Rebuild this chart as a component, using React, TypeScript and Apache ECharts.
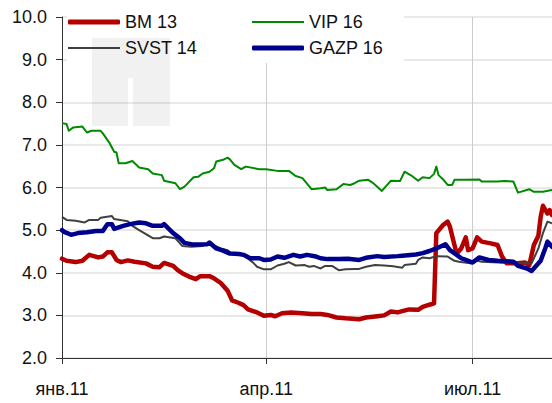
import React, { useEffect, useRef } from 'react';
import * as echarts from 'echarts';

const FIRST_DAY = '2011-01-01';
const DAY_COUNT = 217;
const TICK_DATES = ['2011-01-01', '2011-04-01', '2011-07-01'];
const TICK_LABELS = ['янв.11', 'апр.11', 'июл.11'];
const Y_MIN = 2;
const Y_MAX = 10;
const Y_STEP = 1;

const BM13: [string, number][] = [
  ['2011-01-01', 4.33], ['2011-01-03', 4.28], ['2011-01-07', 4.25], ['2011-01-10', 4.28],
  ['2011-01-13', 4.42], ['2011-01-17', 4.36], ['2011-01-19', 4.38], ['2011-01-21', 4.48],
  ['2011-01-23', 4.48], ['2011-01-25', 4.30], ['2011-01-27', 4.25], ['2011-01-30', 4.29],
  ['2011-02-02', 4.26], ['2011-02-07', 4.22], ['2011-02-10', 4.14], ['2011-02-13', 4.13],
  ['2011-02-15', 4.23], ['2011-02-19', 4.16], ['2011-02-21', 4.06], ['2011-02-23', 3.99],
  ['2011-02-26', 3.91], ['2011-03-01', 3.85], ['2011-03-03', 3.92], ['2011-03-07', 3.92],
  ['2011-03-09', 3.87], ['2011-03-12', 3.76], ['2011-03-15', 3.58], ['2011-03-17', 3.35],
  ['2011-03-20', 3.29], ['2011-03-22', 3.24], ['2011-03-24', 3.14], ['2011-03-28', 3.07],
  ['2011-03-31', 2.99], ['2011-04-03', 3.01], ['2011-04-05', 2.98], ['2011-04-08', 3.05],
  ['2011-04-12', 3.07], ['2011-04-17', 3.05], ['2011-04-21', 3.03], ['2011-04-25', 3.03],
  ['2011-04-28', 3.01], ['2011-05-02', 2.95], ['2011-05-06', 2.93], ['2011-05-12', 2.91],
  ['2011-05-15', 2.95], ['2011-05-20', 2.98], ['2011-05-23', 3.00], ['2011-05-26', 3.09],
  ['2011-05-29', 3.07], ['2011-05-31', 3.10], ['2011-06-03', 3.14], ['2011-06-07', 3.13],
  ['2011-06-09', 3.20], ['2011-06-12', 3.25], ['2011-06-14', 3.28], ['2011-06-15', 4.93],
  ['2011-06-18', 5.12], ['2011-06-20', 5.20], ['2011-06-21', 5.08], ['2011-06-23', 4.65],
  ['2011-06-24', 4.45], ['2011-06-26', 4.57], ['2011-06-28', 4.83], ['2011-06-29', 4.53],
  ['2011-07-01', 4.57], ['2011-07-03', 4.83], ['2011-07-05', 4.73], ['2011-07-09', 4.69],
  ['2011-07-12', 4.65], ['2011-07-14', 4.38], ['2011-07-16', 4.22], ['2011-07-20', 4.22],
  ['2011-07-24', 4.24], ['2011-07-26', 4.18], ['2011-07-28', 4.65], ['2011-07-30', 4.87],
  ['2011-07-31', 5.31], ['2011-08-01', 5.57], ['2011-08-03', 5.39], ['2011-08-04', 5.47],
  ['2011-08-05', 5.35],
];

const VIP16: [string, number][] = [
  ['2011-01-01', 7.51], ['2011-01-03', 7.49], ['2011-01-04', 7.33], ['2011-01-06', 7.41],
  ['2011-01-10', 7.43], ['2011-01-12', 7.29], ['2011-01-14', 7.33], ['2011-01-18', 7.33],
  ['2011-01-19', 7.27], ['2011-01-22', 7.04], ['2011-01-24', 6.84], ['2011-01-25', 6.82],
  ['2011-01-26', 6.57], ['2011-01-29', 6.57], ['2011-02-01', 6.62], ['2011-02-04', 6.47],
  ['2011-02-08', 6.43], ['2011-02-10', 6.33], ['2011-02-14', 6.29], ['2011-02-15', 6.16],
  ['2011-02-20', 6.10], ['2011-02-22', 5.96], ['2011-02-24', 6.02], ['2011-02-28', 6.24],
  ['2011-03-02', 6.25], ['2011-03-04', 6.33], ['2011-03-07', 6.37], ['2011-03-09', 6.45],
  ['2011-03-10', 6.61], ['2011-03-13', 6.65], ['2011-03-15', 6.70], ['2011-03-16', 6.66],
  ['2011-03-18', 6.53], ['2011-03-21', 6.43], ['2011-03-23', 6.49], ['2011-03-29', 6.43],
  ['2011-04-01', 6.43], ['2011-04-06', 6.39], ['2011-04-11', 6.39], ['2011-04-14', 6.27],
  ['2011-04-17', 6.22], ['2011-04-21', 5.96], ['2011-04-25', 5.98], ['2011-04-27', 6.00],
  ['2011-04-28', 5.94], ['2011-05-02', 5.96], ['2011-05-05', 6.08], ['2011-05-08', 6.06],
  ['2011-05-10', 6.10], ['2011-05-12', 6.16], ['2011-05-16', 6.18], ['2011-05-18', 6.11],
  ['2011-05-22', 5.92], ['2011-05-26', 6.16], ['2011-05-30', 6.15], ['2011-06-01', 6.37],
  ['2011-06-04', 6.28], ['2011-06-07', 6.16], ['2011-06-09', 6.24], ['2011-06-12', 6.22],
  ['2011-06-14', 6.32], ['2011-06-15', 6.49], ['2011-06-16', 6.29], ['2011-06-18', 6.19],
  ['2011-06-20', 6.06], ['2011-06-22', 6.06], ['2011-06-23', 6.18], ['2011-06-28', 6.18],
  ['2011-07-04', 6.19], ['2011-07-05', 6.14], ['2011-07-12', 6.14], ['2011-07-15', 6.15],
  ['2011-07-19', 6.14], ['2011-07-21', 5.88], ['2011-07-26', 5.96], ['2011-07-28', 5.90],
  ['2011-08-01', 5.90], ['2011-08-05', 5.94],
];

const SVST14: [string, number][] = [
  ['2011-01-01', 5.31], ['2011-01-03', 5.24], ['2011-01-07', 5.22], ['2011-01-11', 5.18],
  ['2011-01-13', 5.24], ['2011-01-17', 5.24], ['2011-01-18', 5.29], ['2011-01-23', 5.33],
  ['2011-01-24', 5.26], ['2011-01-30', 5.21], ['2011-02-01', 5.10], ['2011-02-04', 5.00],
  ['2011-02-10', 4.81], ['2011-02-13', 4.81], ['2011-02-15', 4.85], ['2011-02-20', 4.81],
  ['2011-02-23', 4.63], ['2011-02-27', 4.61], ['2011-03-04', 4.63], ['2011-03-07', 4.69],
  ['2011-03-12', 4.57], ['2011-03-15', 4.53], ['2011-03-17', 4.44], ['2011-03-22', 4.42],
  ['2011-03-26', 4.25], ['2011-03-28', 4.14], ['2011-03-31', 4.08], ['2011-04-03', 4.08],
  ['2011-04-06', 4.17], ['2011-04-09', 4.21], ['2011-04-11', 4.25], ['2011-04-14', 4.17],
  ['2011-04-18', 4.18], ['2011-04-20', 4.14], ['2011-04-22', 4.16], ['2011-04-25', 4.10],
  ['2011-04-27', 4.16], ['2011-04-30', 4.16], ['2011-05-03', 4.06], ['2011-05-06', 4.08],
  ['2011-05-10', 4.09], ['2011-05-12', 4.09], ['2011-05-15', 4.14], ['2011-05-19', 4.18],
  ['2011-05-23', 4.17], ['2011-05-27', 4.15], ['2011-05-31', 4.12], ['2011-06-01', 4.18],
  ['2011-06-06', 4.21], ['2011-06-07', 4.30], ['2011-06-09', 4.36], ['2011-06-12', 4.34],
  ['2011-06-15', 4.39], ['2011-06-20', 4.38], ['2011-06-23', 4.28], ['2011-06-25', 4.26],
  ['2011-06-30', 4.22], ['2011-07-02', 4.30], ['2011-07-05', 4.26], ['2011-07-20', 4.22],
  ['2011-07-27', 4.22], ['2011-07-30', 4.57], ['2011-08-01', 4.93], ['2011-08-03', 5.20],
  ['2011-08-05', 5.16],
];

const GAZP16: [string, number][] = [
  ['2011-01-01', 5.00], ['2011-01-02', 4.96], ['2011-01-05', 4.89], ['2011-01-08', 4.93],
  ['2011-01-12', 4.95], ['2011-01-16', 4.98], ['2011-01-19', 4.98], ['2011-01-21', 5.14],
  ['2011-01-23', 5.14], ['2011-01-24', 5.03], ['2011-01-28', 5.10], ['2011-01-31', 5.14],
  ['2011-02-04', 5.18], ['2011-02-07', 5.16], ['2011-02-10', 5.10], ['2011-02-14', 5.10],
  ['2011-02-15', 5.14], ['2011-02-19', 4.93], ['2011-02-22', 4.81], ['2011-02-24', 4.70],
  ['2011-02-28', 4.66], ['2011-03-06', 4.67], ['2011-03-07', 4.71], ['2011-03-10', 4.57],
  ['2011-03-13', 4.52], ['2011-03-16', 4.45], ['2011-03-20', 4.44], ['2011-03-22', 4.42],
  ['2011-03-25', 4.34], ['2011-03-29', 4.34], ['2011-03-31', 4.30], ['2011-04-03', 4.31],
  ['2011-04-06', 4.38], ['2011-04-09', 4.35], ['2011-04-13', 4.42], ['2011-04-16', 4.38],
  ['2011-04-19', 4.42], ['2011-04-23', 4.38], ['2011-04-25', 4.34], ['2011-04-28', 4.32],
  ['2011-05-03', 4.32], ['2011-05-07', 4.33], ['2011-05-12', 4.30], ['2011-05-15', 4.35],
  ['2011-05-20', 4.39], ['2011-05-23', 4.37], ['2011-05-29', 4.39], ['2011-05-31', 4.40],
  ['2011-06-06', 4.43], ['2011-06-09', 4.46], ['2011-06-12', 4.51], ['2011-06-15', 4.57],
  ['2011-06-19', 4.67], ['2011-06-21', 4.53], ['2011-06-24', 4.42], ['2011-06-26', 4.34],
  ['2011-06-28', 4.30], ['2011-07-01', 4.24], ['2011-07-04', 4.36], ['2011-07-08', 4.30],
  ['2011-07-12', 4.28], ['2011-07-19', 4.26], ['2011-07-21', 4.16], ['2011-07-25', 4.10],
  ['2011-07-27', 4.04], ['2011-07-31', 4.28], ['2011-08-02', 4.57], ['2011-08-03', 4.73],
  ['2011-08-05', 4.61],
];

const FONT = "'Liberation Sans', Arial, sans-serif";
const FONT_SIZE = 18;

function buildCategories(): string[] {
  const out: string[] = [];
  const start = Date.parse(FIRST_DAY + 'T00:00:00Z');
  for (let i = 0; i < DAY_COUNT; i++) {
    out.push(new Date(start + i * 86400000).toISOString().slice(0, 10));
  }
  return out;
}

const isTick = (_i: number, v: string) => TICK_DATES.indexOf(v) >= 0;

export default function App() {
  const ref = useRef<HTMLDivElement>(null);
  useEffect(() => {
    if (!ref.current) return;
    const chart = echarts.init(ref.current, undefined, { renderer: 'svg' });
    const categories = buildCategories();
    const legendText = { fontFamily: FONT, fontSize: FONT_SIZE, color: '#111', lineHeight: 21 };
    const legendItem = (name: string, left: number, top: number, thick: boolean) => ({
      data: [name],
      left,
      top,
      padding: 0,
      itemWidth: 52,
      itemHeight: thick ? 5 : 2,
      icon: thick ? 'roundRect' : 'rect',
      textStyle: legendText,
    });
    chart.setOption({
      animation: false,
      backgroundColor: '#fff',
      grid: { left: 62, right: 0, top: 17, bottom: 45, containLabel: false },
      xAxis: {
        type: 'category',
        data: categories,
        boundaryGap: false,
        axisLine: { show: true, lineStyle: { color: '#333', width: 1 } },
        axisTick: { show: true, interval: isTick, length: 6, lineStyle: { color: '#333' } },
        axisLabel: {
          interval: isTick,
          formatter: (v: string) => TICK_LABELS[TICK_DATES.indexOf(v)] ?? '',
          fontFamily: FONT,
          fontSize: FONT_SIZE,
          color: '#111',
          margin: 22,
        },
        splitLine: { show: true, interval: isTick, lineStyle: { color: '#cccccc', width: 1 } },
      },
      yAxis: {
        type: 'value',
        min: Y_MIN,
        max: Y_MAX,
        interval: Y_STEP,
        axisLine: { show: true, lineStyle: { color: '#333', width: 1 } },
        axisTick: { show: true, length: 6, lineStyle: { color: '#333' } },
        axisLabel: {
          formatter: (v: number) => v.toFixed(1),
          fontFamily: FONT,
          fontSize: FONT_SIZE,
          color: '#111',
          margin: 15,
        },
        splitLine: { show: true, lineStyle: { color: '#e2e2e2', width: 1.5 } },
      },
      graphic: [
        { type: 'rect', z: 1, shape: { x: 67, y: 0, width: 337, height: 63 }, style: { fill: '#ffffff' } },
        { type: 'rect', z: 1, shape: { x: 92, y: 38, width: 36, height: 88 }, style: { fill: 'rgba(0,0,0,0.055)' } },
        { type: 'rect', z: 1, shape: { x: 133, y: 38, width: 37, height: 88 }, style: { fill: 'rgba(0,0,0,0.055)' } },
        { type: 'rect', z: 1, shape: { x: 128, y: 38, width: 5, height: 40 }, style: { fill: 'rgba(0,0,0,0.055)' } },
      ],
      legend: [
        legendItem('BM 13', 68, 11.5, true),
        legendItem('SVST 14', 68, 37.5, false),
        legendItem('VIP 16', 252, 11.5, false),
        legendItem('GAZP 16', 252, 37.5, true),
      ],
      series: [
        { name: 'BM 13', type: 'line', data: BM13, symbol: 'none', color: '#B40000', lineStyle: { width: 4.5, color: '#B40000', cap: 'round', join: 'round' } },
        { name: 'VIP 16', type: 'line', data: VIP16, symbol: 'none', color: '#008A00', lineStyle: { width: 2, color: '#008A00', join: 'round' } },
        { name: 'SVST 14', type: 'line', data: SVST14, symbol: 'none', color: '#404040', lineStyle: { width: 2, color: '#404040', join: 'round' } },
        { name: 'GAZP 16', type: 'line', data: GAZP16, symbol: 'none', color: '#00008E', lineStyle: { width: 4.5, color: '#00008E', cap: 'round', join: 'round' } },
      ],
    });
    return () => chart.dispose();
  }, []);
  return <div ref={ref} style={{ position: 'fixed', left: 0, top: 0, width: 552, height: 403 }} />;
}
